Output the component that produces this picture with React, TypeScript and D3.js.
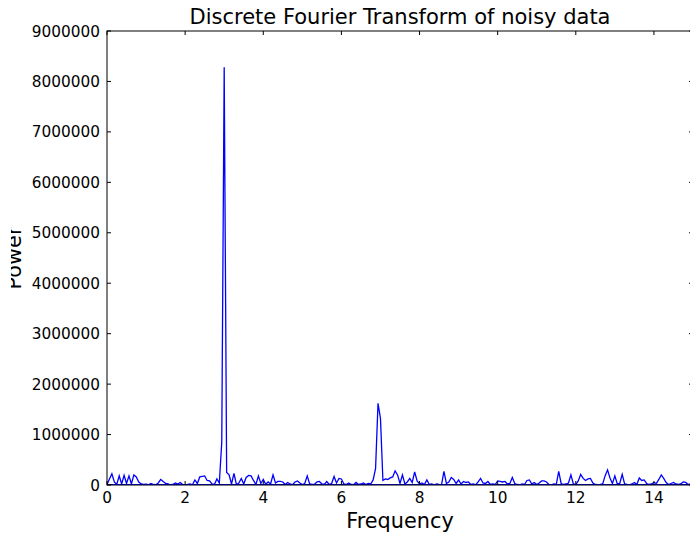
import React from "react";
import * as d3 from "d3";

const title = "Discrete Fourier Transform of noisy data";
const xLabel = "Frequency";
const yLabel = "Power";
const xTicks = [0, 2, 4, 6, 8, 10, 12, 14];
const yTicks = [0, 1000000, 2000000, 3000000, 4000000, 5000000, 6000000, 7000000, 8000000, 9000000];
const freqStep = 0.0625;
// power values (in thousands) at frequency index * freqStep
const powerK = [
  10, 120, 220, 60, 10, 180, 20, 190, 30, 180, 20, 200, 160, 60, 20, 10,
  15, 5, 30, 10, 5, 40, 110, 70, 30, 20, 5, 10, 40, 20, 50, 10,
  5, 10, 20, 5, 100, 30, 160, 170, 180, 90, 80, 20, 10, 120, 40, 850,
  8280, 250, 200, 20, 230, 10, 40, 130, 20, 150, 190, 180, 90, 10, 180, 30,
  110, 15, 60, 20, 200, 40, 70, 70, 60, 10, 50, 20, 5, 60, 80, 40,
  10, 30, 180, 20, 10, 15, 60, 70, 20, 10, 70, 10, 30, 170, 40, 130,
  120, 20, 10, 40, 10, 5, 50, 10, 20, 40, 10, 30, 20, 100, 330, 1620,
  1320, 90, 120, 110, 140, 160, 280, 200, 30, 200, 20, 60, 130, 50, 260, 80,
  20, 40, 10, 100, 10, 20, 5, 20, 10, 5, 270, 30, 60, 150, 110, 30,
  100, 20, 70, 50, 60, 10, 20, 5, 60, 130, 40, 30, 70, 10, 20, 10,
  80, 70, 60, 70, 20, 30, 150, 30, 10, 5, 20, 10, 90, 100, 20, 50,
  10, 40, 80, 80, 60, 10, 5, 20, 10, 270, 30, 10, 20, 40, 200, 20,
  10, 80, 210, 130, 90, 120, 130, 40, 10, 5, 10, 20, 180, 300, 140, 30,
  180, 20, 30, 210, 20, 10, 5, 20, 50, 10, 140, 90, 100, 30, 10, 20,
  50, 30, 110, 200, 130, 50, 10, 30, 50, 20, 10, 20, 60, 50, 10, 20,
  30,
];
// value of the wrap-around segment (last positive -> first negative frequency)
const wrapK = 8;

const W = 690;
const H = 533;
const L = 107;
const T = 31;
const R = 693;
const B = 485;

export default function App() {
  const x = d3.scaleLinear().domain([0, 15]).range([L, R]);
  const y = d3.scaleLinear().domain([0, 9000000]).range([B, T]);
  const pts: [number, number][] = powerK.map((v, i) => [i * freqStep, v * 1000]);
  pts.push([40, wrapK * 1000]);
  pts.push([-40, wrapK * 1000]);
  const line = d3
    .line<[number, number]>()
    .x((d) => x(d[0]))
    .y((d) => y(d[1]));
  const font = "'DejaVu Sans', sans-serif";
  return (
    <svg
      width={W}
      height={H}
      style={{ position: "absolute", left: 0, top: 0, background: "#fff" }}
      fontFamily={font}
    >
      <rect x={0} y={0} width={W} height={H} fill="#fff" />
      <defs>
        <clipPath id="plot">
          <rect x={L} y={T} width={R - L} height={B - T} />
        </clipPath>
        <clipPath id="ylab">
          <rect x={11} y={0} width={60} height={H} />
        </clipPath>
      </defs>
      <path d={line(pts) || ""} fill="none" stroke="#0000ff" strokeWidth={1.3} clipPath="url(#plot)" />
      {/* spines */}
      <rect x={L} y={T} width={R - L} height={B - T} fill="none" stroke="#000" strokeWidth={1} />
      {/* x ticks */}
      {xTicks.map((t) => (
        <g key={"x" + t}>
          <line x1={x(t)} x2={x(t)} y1={B} y2={B - 4} stroke="#000" />
          <line x1={x(t)} x2={x(t)} y1={T} y2={T + 4} stroke="#000" />
          <text x={x(t)} y={503} textAnchor="middle" fontSize={15.3} fill="#000">
            {t}
          </text>
        </g>
      ))}
      {yTicks.map((t) => (
        <g key={"y" + t}>
          <line x1={L} x2={L + 4} y1={y(t)} y2={y(t)} stroke="#000" />
          <line x1={R} x2={R - 4} y1={y(t)} y2={y(t)} stroke="#000" />
          <text x={100} y={y(t)} dy="0.36em" textAnchor="end" fontSize={15.3} fill="#000">
            {String(t)}
          </text>
        </g>
      ))}
      <text x={(L + R) / 2} y={24} textAnchor="middle" fontSize={21} fill="#000">
        {title}
      </text>
      <text x={(L + R) / 2} y={528} textAnchor="middle" fontSize={20.8} fill="#000">
        {xLabel}
      </text>
      <g clipPath="url(#ylab)">
        <text
          transform={`translate(21,${(T + B) / 2}) rotate(-90)`}
          textAnchor="middle"
          fontSize={20.8}
          fill="#000"
        >
          {yLabel}
        </text>
      </g>
    </svg>
  );
}
